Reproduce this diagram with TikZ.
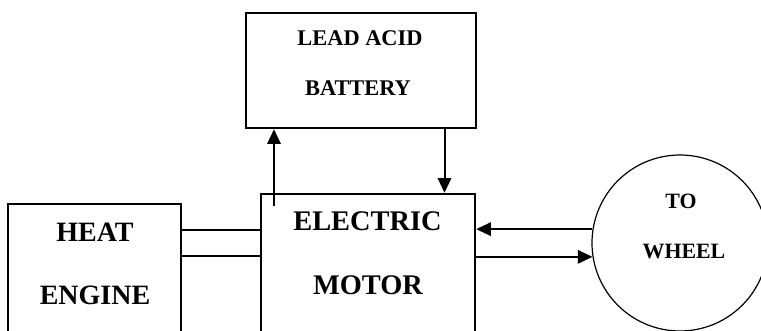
\documentclass[tikz,border=0pt]{standalone}
\usepackage{fontspec}
\setmainfont{Liberation Serif}
\usetikzlibrary{arrows.meta}
\begin{document}
\begin{tikzpicture}[x=0.75pt,y=-0.75pt,
  blk/.style={draw,line width=1.8pt,inner sep=0pt},
  lbl/.style={font=\bfseries,inner sep=0pt,anchor=center},
  conn/.style={line width=1.5pt},
  arr/.style={line width=1.5pt,-{Triangle[length=11pt,width=10pt]}}]
\useasboundingbox (0,0) rectangle (761,331);
\clip (0,0) rectangle (761,331);
\node[blk,minimum width=172.5pt,minimum height=86.25pt] (bat) at (361,70.5) {};
\node[blk,minimum width=160.5pt,minimum height=113.25pt] (motor) at (368,269.5) {};
\node[blk,minimum width=129.75pt,minimum height=105.75pt] (heat) at (94.5,274.5) {};
\node[draw,circle,line width=0.9pt,minimum size=132pt,inner sep=0pt] (wheel) at (680,243) {};
\node[lbl,font=\bfseries\fontsize{16.8pt}{18pt}\selectfont] (t1) at (360,38.5) {LEAD ACID};
\node[lbl,font=\bfseries\fontsize{16.8pt}{18pt}\selectfont] (t2) at (358,88) {BATTERY};
\node[lbl,font=\bfseries\fontsize{21.3pt}{24pt}\selectfont] (t3) at (367.5,221.7) {ELECTRIC};
\node[lbl,font=\bfseries\fontsize{21.3pt}{24pt}\selectfont] (t4) at (368,285.7) {MOTOR};
\node[lbl,font=\bfseries\fontsize{21pt}{24pt}\selectfont] (t5) at (95,232) {HEAT};
\node[lbl,font=\bfseries\fontsize{21pt}{24pt}\selectfont] (t6) at (95,295) {ENGINE};
\node[lbl,font=\bfseries\fontsize{16.4pt}{18pt}\selectfont] (t7) at (681,201.7) {TO};
\node[lbl,font=\bfseries\fontsize{16.4pt}{18pt}\selectfont] (t8) at (684,252) {WHEEL};
\draw[conn] (heat.east |- 0,230.5) -- (motor.west |- 0,230.5);
\draw[conn] (heat.east |- 0,256.5) -- (motor.west |- 0,256.5);
\coordinate (upstart) at (274,206);
\draw[arr] (upstart) -- (bat.south -| upstart);
\coordinate (dn) at (444.5,0);
\draw[arr] (bat.south -| dn) -- (motor.north -| dn);
\draw[arr] (wheel.171.5) -- (motor.east |- wheel.171.5);
\draw[arr] (motor.east |- wheel.189) -- (wheel.189);
\end{tikzpicture}
\end{document}
